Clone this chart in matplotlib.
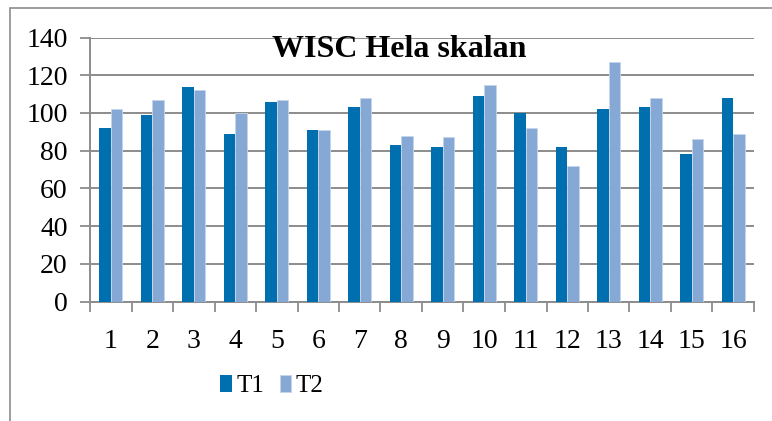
import numpy as np
import matplotlib.pyplot as plt
from matplotlib.patches import Rectangle

# ---------------------------------------------------------------------------
# Data
# ---------------------------------------------------------------------------

categories = [str(i) for i in range(1, 17)]
t1_values = [92, 99, 114, 89, 106, 91, 103, 83, 82, 109, 100, 82, 102, 103, 78, 108]
t2_values = [102, 107, 112, 100, 107, 91, 108, 88, 87, 115, 92, 72, 127, 108, 86, 89]
series_labels = ["T1", "T2"]
title = "WISC Hela skalan"

COLOR_T1 = "#006FB0"
COLOR_T2 = "#86A8D5"
COLOR_GRID = "#8C8C8C"

plt.rcParams["font.family"] = ["Liberation Serif", "DejaVu Serif"]

fig = plt.figure(figsize=(7.72, 4.21), dpi=100)
ax = fig.add_axes([90 / 772, 1 - 301.5 / 421, 664 / 772, 264 / 421])

# outer chart frame (only top/left visible in the reference)
fig.patches.append(Rectangle((10 / 772, -0.1), 1.2, 1 - 8 / 421 + 0.1,
                             transform=fig.transFigure, fill=False,
                             edgecolor="#8C8C8C", linewidth=1.2))

x = np.arange(len(categories))
w = 0.28
ax.bar(x - w / 2, t1_values, w, color=COLOR_T1, label=series_labels[0],
       zorder=3)
ax.bar(x + w / 2, t2_values, w, color=COLOR_T2, label=series_labels[1],
       edgecolor="#C5D6EC", linewidth=0.6, zorder=3)

ax.set_ylim(0, 140)
ax.set_yticks(range(0, 141, 20))
ax.set_xlim(-0.5, len(categories) - 0.5)
ax.set_xticks(x)
ax.set_xticklabels(categories)
ax.set_xticks(np.arange(-0.5, len(categories)), minor=True)
ax.tick_params(axis="x", which="major", length=0, pad=20, labelsize=20)
ax.tick_params(axis="x", which="minor", length=7, width=1.3,
               color=COLOR_GRID, direction="out")
ax.tick_params(axis="y", length=7, width=1.3, color=COLOR_GRID,
               pad=9, labelsize=20)

ax.grid(axis="y", color=COLOR_GRID, linewidth=1.4, zorder=0)
for side in ("top", "right"):
    ax.spines[side].set_visible(False)
for side in ("left", "bottom"):
    ax.spines[side].set_color(COLOR_GRID)
    ax.spines[side].set_linewidth(1.4)

ax.text(0.465, 0.955, title, transform=ax.transAxes, ha="center", va="center",
        fontsize=23, fontweight="bold")

fig.legend(loc="center", bbox_to_anchor=(272 / 772, 1 - 386 / 421),
           ncol=2, frameon=False, fontsize=18, handlelength=0.45,
           handleheight=0.7, handletextpad=0.2, columnspacing=0.6,
           borderpad=0)

fig.savefig("out.png", dpi=100)
